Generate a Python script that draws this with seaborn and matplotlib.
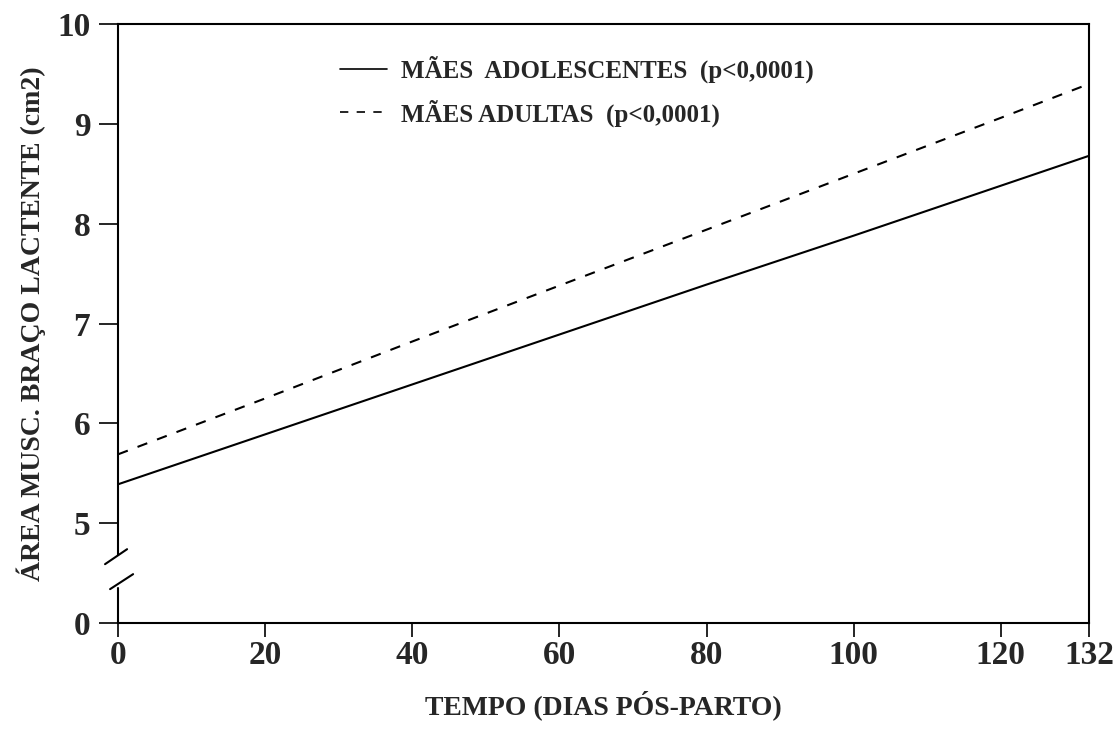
import matplotlib
matplotlib.use("Agg")
import matplotlib.pyplot as plt
import matplotlib.transforms as mtransforms
import numpy as np
import pandas as pd
import seaborn as sns

# values
dias = [0, 20, 40, 60, 80, 100, 120, 132]
adolescentes = [5.39, 5.89, 6.39, 6.89, 7.39, 7.88, 8.38, 8.68]
adultas = [5.69, 6.25, 6.82, 7.38, 7.94, 8.50, 9.06, 9.40]

lbl_adol = "MÃES  ADOLESCENTES  (p<0,0001)"
lbl_adul = "MÃES ADULTAS  (p<0,0001)"

x_ticks = [0, 20, 40, 60, 80, 100, 120, 132]
# broken axis: the "0" label sits at position 4
y_ticks = [4, 5, 6, 7, 8, 9, 10]
y_tick_labels = ["0", "5", "6", "7", "8", "9", "10"]

df = pd.DataFrame({
    "dias": dias * 2,
    "area": adolescentes + adultas,
    "grupo": [lbl_adol] * len(dias) + [lbl_adul] * len(dias),
})

sns.set_style("ticks")
plt.rcParams["font.family"] = ["Liberation Serif", "DejaVu Serif"]
plt.rcParams["font.weight"] = "bold"

fig = plt.figure(figsize=(11.2, 7.4), dpi=100)
ax = fig.add_axes([0.1054, 0.158, 0.8670, 0.8096])

sns.lineplot(data=df, x="dias", y="area", hue="grupo", style="grupo",
             palette={lbl_adol: "black", lbl_adul: "black"},
             dashes={lbl_adol: "", lbl_adul: (5, 5)},
             linewidth=1.5, ax=ax)

ax.set_xlim(0, 132)
ax.set_ylim(4, 10)
ax.set_xticks(x_ticks)
ax.set_yticks(y_ticks)
ax.set_yticklabels(y_tick_labels)
ax.tick_params(axis="both", length=14, width=1.2, labelsize=24, pad=6, color="black")
ax.tick_params(axis="x", length=10, pad=2)
for t in ax.get_xticklabels() + ax.get_yticklabels():
    t.set_fontweight("bold")

for s in ["top", "right", "bottom", "left"]:
    ax.spines[s].set_visible(True)
    ax.spines[s].set_linewidth(1.5)
    ax.spines[s].set_color("black")

# break in the y axis between 0 and 5
ax.spines["left"].set_bounds(4.69, 10)
trans = mtransforms.blended_transform_factory(ax.transAxes, ax.transData)
ax.plot([0, 0], [4, 4.35], transform=trans, color="black", lw=1.5, clip_on=False)
ax.plot([-0.0134, 0.0093], [4.59, 4.74], transform=trans, color="black", lw=1.5, clip_on=False)
ax.plot([-0.0082, 0.0155], [4.34, 4.49], transform=trans, color="black", lw=1.5, clip_on=False)

ax.set_xlabel("TEMPO (DIAS PÓS-PARTO)", fontsize=20, fontweight="bold", labelpad=14)
ax.set_ylabel("ÁREA MUSC. BRAÇO LACTENTE (cm2)", fontsize=20, fontweight="bold", labelpad=8)

handles, labels = ax.get_legend_handles_labels()
leg = ax.legend(handles, labels, loc="upper left", bbox_to_anchor=(0.205, 0.985),
                frameon=False, handlelength=1.9, handletextpad=0.55,
                labelspacing=0.65, prop={"weight": "bold", "size": 18})
for h in leg.legend_handles:
    h.set_linewidth(1.2)

fig.savefig("out.png", dpi=100)
